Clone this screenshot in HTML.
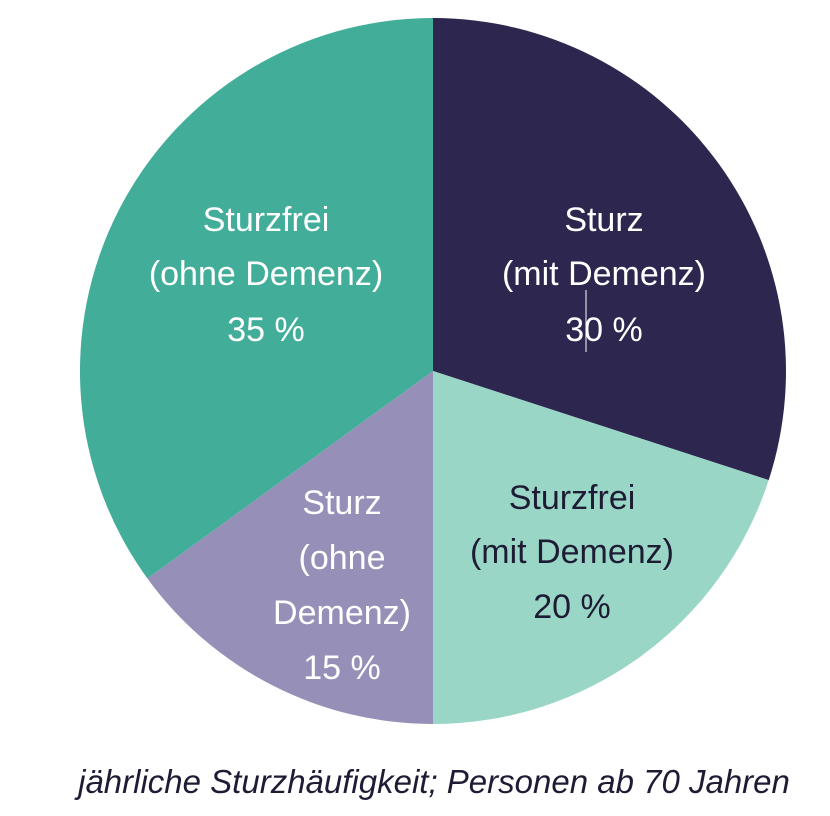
<!DOCTYPE html>
<html><head><meta charset="utf-8"><style>
html,body{margin:0;padding:0;background:#fff;}
svg{display:block;}
text{font-family:"Liberation Sans Narrow","Liberation Sans",sans-serif;font-size:34px;text-anchor:middle;}
</style></head><body>
<svg width="830" height="816" viewBox="0 0 830 816">
<path d="M433,371 L433,18 A353,353 0 0 1 768.7,480.1 Z" fill="#2d2750"/>
<path d="M433,371 L768.7,480.1 A353,353 0 0 1 433,724 Z" fill="#99d6c6"/>
<path d="M433,371 L433,724 A353,353 0 0 1 147.4,578.5 Z" fill="#968fb8"/>
<path d="M433,371 L147.4,578.5 A353,353 0 0 1 433,18 Z" fill="#42ae9a"/>
<line x1="586" y1="290" x2="586" y2="352" stroke="#fff" stroke-width="1"/>
<g fill="#fff">
<text x="604" y="231">Sturz</text>
<text x="604" y="285">(mit Demenz)</text>
<text x="604" y="341">30 %</text>
<text x="266" y="231">Sturzfrei</text>
<text x="266" y="285">(ohne Demenz)</text>
<text x="266" y="341">35 %</text>
<text x="342" y="514">Sturz</text>
<text x="342" y="569">(ohne</text>
<text x="342" y="624">Demenz)</text>
<text x="342" y="679">15 %</text>
</g>
<g fill="#1e1c35">
<text x="572" y="509">Sturzfrei</text>
<text x="572" y="563">(mit Demenz)</text>
<text x="572" y="618">20 %</text>
</g>
<text x="434" y="793" fill="#1e1c35" style="font-style:italic;font-size:33px">jährliche Sturzhäufigkeit; Personen ab 70 Jahren</text>
</svg>
</body></html>
